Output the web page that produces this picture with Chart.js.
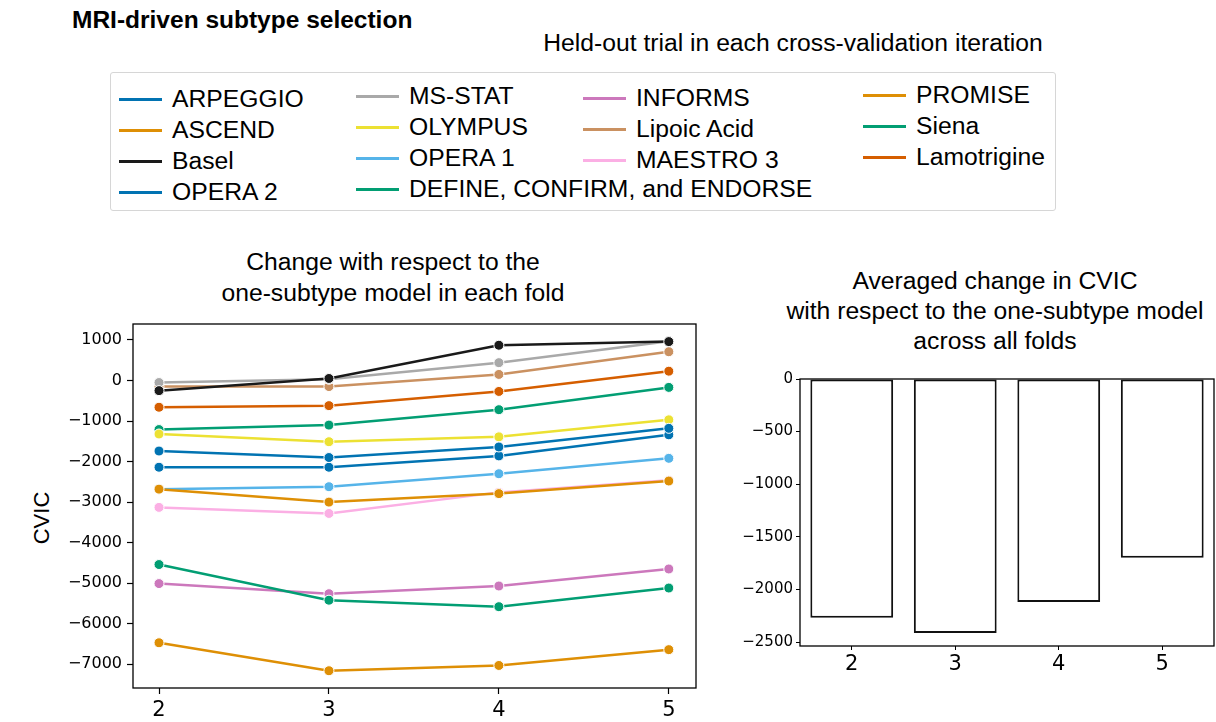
<!DOCTYPE html>
<html>
<head>
<meta charset="utf-8">
<script src="https://cdn.jsdelivr.net/npm/chart.js@4/dist/chart.umd.min.js"></script>
<style>
  body { margin: 0; background: #fff; }
  #page { position: relative; width: 1216px; height: 722px; overflow: hidden; font-family: "Liberation Sans", Arial, sans-serif; color: #000; }
  .txt { position: absolute; white-space: nowrap; }
  .center { transform: translateX(-50%); text-align: center; }
  #legendBox { position: absolute; left: 110px; top: 72px; width: 944px; height: 137px; border: 1px solid #d6d6d6; border-radius: 3px; }
  .legItem { position: absolute; display: flex; align-items: center; font-size: 24.7px; line-height: 30px; white-space: nowrap; }
  .legItem span.sw { display: inline-block; width: 43px; height: 3px; margin-right: 10px; }
  canvas { position: absolute; }
</style>
</head>
<body>
<div id="page">
  <div class="txt" style="left:72px; top:6px; font-size:24.5px; font-weight:bold;">MRI-driven subtype selection</div>
  <div class="txt center" style="left:793px; top:29px; font-size:24.7px;">Held-out trial in each cross-validation iteration</div>
  <div id="legendBox"></div>

  <div class="txt center" style="left:393px; top:246px; font-size:24.7px; line-height:31px;">Change with respect to the<br>one-subtype model in each fold</div>
  <div class="txt center" style="left:995px; top:266px; font-size:24.7px; line-height:30px;">Averaged change in CVIC<br>with respect to the one-subtype model<br>across all folds</div>
  <div class="txt" style="left:42px; top:518px; font-size:22px; transform: translate(-50%, -50%) rotate(-90deg);">CVIC</div>

  <canvas id="foldChart" width="676" height="404" style="left:26px; top:318px;"></canvas>
  <canvas id="avgChart" width="496" height="320" style="left:720px; top:370px;"></canvas>
</div>

<script>
// Données
const folds = [2, 3, 4, 5];

const trialNames = [
  'ARPEGGIO', 'ASCEND', 'Basel', 'OPERA 2',
  'MS-STAT', 'OLYMPUS', 'OPERA 1', 'DEFINE, CONFIRM, and ENDORSE',
  'INFORMS', 'Lipoic Acid', 'MAESTRO 3',
  'PROMISE', 'Siena', 'Lamotrigine'
];

const trialColors = [
  '#0173b2', '#de8f05', '#1a1a1a', '#0173b2',
  '#a9a9a9', '#ece133', '#56b4e9', '#029e73',
  '#cc78bc', '#ca9161', '#fbafe4',
  '#de8f05', '#029e73', '#d55e00'
];

// CVIC change per fold (one array per trial)
const arpeggio    = [-1740, -1900, -1640, -1180];
const ascend      = [-2680, -3000, -2790, -2480];
const basel       = [-250, 50, 870, 960];
const opera2      = [-2140, -2140, -1860, -1340];
const msStat      = [-50, 30, 440, 970];
const olympus     = [-1320, -1510, -1390, -970];
const opera1      = [-2680, -2620, -2300, -1920];
const defineEtc   = [-4540, -5420, -5580, -5120];
const informs     = [-5010, -5260, -5070, -4650];
const lipoicAcid  = [-150, -150, 150, 710];
const maestro3    = [-3130, -3280, -2760, -2460];
const promise     = [-6470, -7160, -7030, -6640];
const siena       = [-1210, -1100, -720, -170];
const lamotrigine = [-660, -620, -270, 230];

const trialSeries = [
  arpeggio, ascend, basel, opera2,
  msStat, olympus, opera1, defineEtc,
  informs, lipoicAcid, maestro3,
  promise, siena, lamotrigine
];

// Moyenne sur tous les folds
const avgChange = [-2270, -2415, -2120, -1700];

// Graduations
const foldTicksY = [1000, 0, -1000, -2000, -3000, -4000, -5000, -6000, -7000];
const avgTicksY = [0, -500, -1000, -1500, -2000, -2500];

// Légende HTML (4 colonnes, remplie colonne par colonne)
const legendColSizes = [4, 4, 3, 3];
const legendColLeft = [8, 245, 472, 752];
const legendColTop = [11, 8, 10, 7];
const legendRowStep = 31;

const legendBox = document.getElementById('legendBox');
let idx = 0;
legendColSizes.forEach((n, c) => {
  for (let r = 0; r < n; r++, idx++) {
    const item = document.createElement('div');
    item.className = 'legItem';
    item.style.left = legendColLeft[c] + 'px';
    item.style.top = (legendColTop[c] + r * legendRowStep) + 'px';
    item.innerHTML = '<span class="sw" style="background:' + trialColors[idx] + '"></span>' + trialNames[idx];
    legendBox.appendChild(item);
  }
});

const minusFmt = v => (v < 0 ? '\u2212' + Math.abs(v) : String(v));

// cadre complet autour de la zone de tracé (style matplotlib)
const frame = {
  id: 'frame',
  afterDraw(chart) {
    const a = chart.chartArea;
    const ctx = chart.ctx;
    ctx.save();
    ctx.strokeStyle = '#000';
    ctx.lineWidth = 1.3;
    ctx.strokeRect(a.left, a.top, a.right - a.left, a.bottom - a.top);
    ctx.restore();
  }
};

// pas de marge automatique pour les étiquettes
const noPadX = (h) => s => { s.height = h; s.paddingLeft = 0; s.paddingRight = 0; };
const noPadY = (w) => s => { s.width = w; s.paddingTop = 0; s.paddingBottom = 0; };

new Chart(document.getElementById('foldChart'), {
  type: 'line',
  data: {
    datasets: trialNames.map((name, i) => ({
      label: name,
      data: folds.map((f, j) => ({ x: f, y: trialSeries[i][j] })),
      borderColor: trialColors[i],
      backgroundColor: trialColors[i],
      pointBackgroundColor: trialColors[i],
      pointBorderColor: '#fff',
      pointBorderWidth: 1,
      pointRadius: 5,
      borderWidth: 2.5,
      tension: 0
    }))
  },
  options: {
    responsive: false,
    animation: false,
    devicePixelRatio: 1,
    layout: { padding: { top: 6, right: 1, left: 0, bottom: 0 } },
    plugins: { legend: { display: false }, tooltip: { enabled: false } },
    scales: {
      x: {
        type: 'linear',
        min: 1.847,
        max: 5.16,
        afterBuildTicks: s => { s.ticks = folds.map(v => ({ value: v })); },
        afterFit: noPadX(34),
        border: { display: false },
        grid: { drawOnChartArea: false, tickLength: 6, color: '#000', tickWidth: 1.2 },
        ticks: { color: '#000', padding: 4, font: { family: '"DejaVu Sans", sans-serif', size: 21 } }
      },
      y: {
        min: -7586,
        max: 1394,
        afterBuildTicks: s => { s.ticks = foldTicksY.map(v => ({ value: v })); },
        afterFit: noPadY(107),
        border: { display: false },
        grid: { drawOnChartArea: false, tickLength: 6, color: '#000', tickWidth: 1.2 },
        ticks: { color: '#000', padding: 5, font: { family: '"DejaVu Sans", sans-serif', size: 16 }, callback: v => minusFmt(v) }
      }
    }
  },
  plugins: [frame]
});

new Chart(document.getElementById('avgChart'), {
  type: 'bar',
  data: {
    labels: folds.map(String),
    datasets: [{
      data: avgChange,
      backgroundColor: '#fff',
      borderColor: '#111',
      borderWidth: 2,
      borderSkipped: false,
      barPercentage: 0.8,
      categoryPercentage: 1
    }]
  },
  options: {
    responsive: false,
    animation: false,
    devicePixelRatio: 1,
    layout: { padding: { top: 9, right: 2, left: 0, bottom: 0 } },
    plugins: { legend: { display: false }, tooltip: { enabled: false } },
    scales: {
      x: {
        afterFit: noPadX(44),
        border: { display: false },
        grid: { offset: false, drawOnChartArea: false, tickLength: 4, color: '#000' },
        ticks: { color: '#000', padding: 2, font: { family: '"DejaVu Sans", sans-serif', size: 21 } }
      },
      y: {
        min: -2538,
        max: 0,
        afterBuildTicks: s => { s.ticks = avgTicksY.map(v => ({ value: v })); },
        afterFit: noPadY(80),
        border: { display: false },
        grid: { drawOnChartArea: false, tickLength: 4, color: '#000' },
        ticks: { color: '#000', padding: 3, font: { family: '"DejaVu Sans", sans-serif', size: 15 }, callback: v => minusFmt(v) }
      }
    }
  },
  plugins: [frame]
});
</script>
</body>
</html>
